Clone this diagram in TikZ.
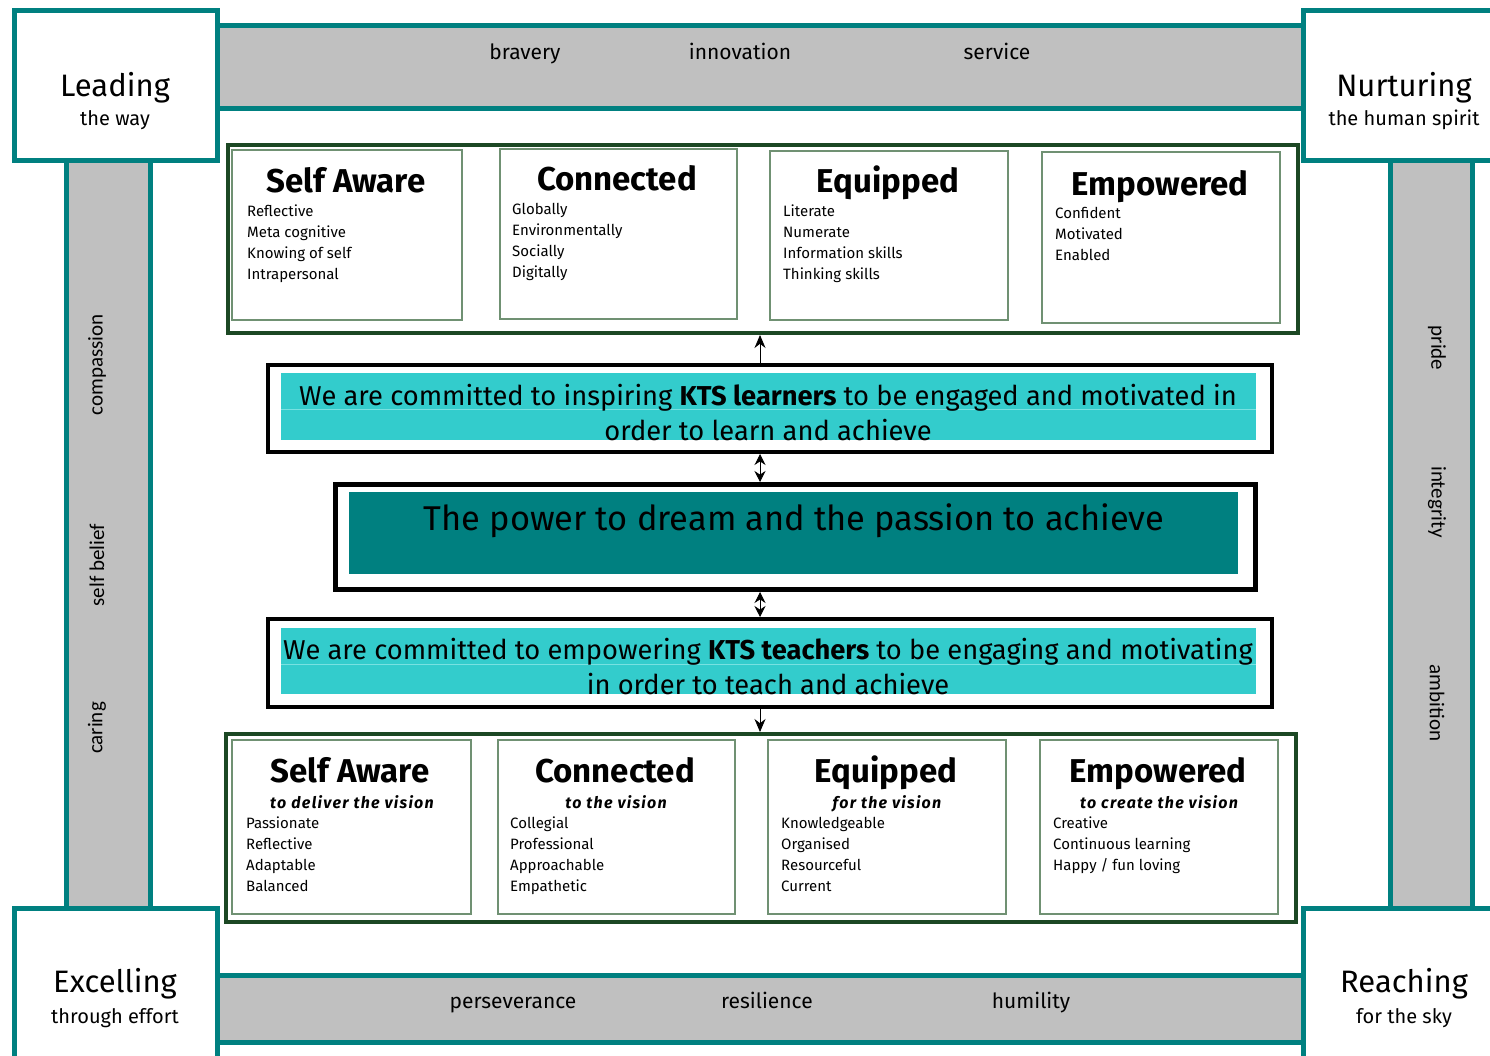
\documentclass[tikz,border=0pt]{standalone}
\usepackage{fontspec}
\setmainfont{Fira Sans}
\newfontfamily\sidefont{Carlito}
\newfontfamily\subfont[LetterSpace=8]{Fira Sans}
\usetikzlibrary{arrows.meta}

\definecolor{tealline}{RGB}{0,128,128}
\definecolor{bargray}{RGB}{192,192,192}
\definecolor{framegreen}{RGB}{28,72,36}
\definecolor{cardline}{RGB}{112,145,115}
\definecolor{aqua}{RGB}{51,204,204}
\definecolor{aqualine}{RGB}{120,225,225}
\definecolor{deepteal}{RGB}{0,128,128}

\tikzset{
  corner/.style={draw=tealline, line width=5pt, fill=white},
  barline/.style={draw=tealline, line width=5pt},
  frame/.style={draw=framegreen, line width=4pt, fill=white, inner sep=0pt, anchor=north west},
  card/.style={draw=cardline, line width=1.6pt, fill=white, inner sep=0pt, anchor=north west},
  stmtbox/.style={draw=black, line width=4pt, fill=white, inner sep=0pt, anchor=north west},
  cornertitle/.style={font=\fontsize{31}{36}\selectfont, anchor=base},
  cornersub/.style={font=\fontsize{20}{24}\selectfont, anchor=base},
  barword/.style={font=\fontsize{21}{24}\selectfont, anchor=base},
  sideword/.style={font=\sidefont\fontsize{21}{24}\selectfont, anchor=center},
  cardtitle/.style={font=\fontsize{33}{36}\selectfont\bfseries, anchor=base},
  cardsub/.style={font=\subfont\fontsize{16}{18}\selectfont\bfseries\itshape, anchor=base},
  item/.style={font=\fontsize{15}{18}\selectfont, anchor=base west, inner sep=0pt},
  stmt/.style={font=\fontsize{27.3}{30}\selectfont, anchor=base},
  motto/.style={font=\fontsize{34.4}{38}\selectfont, anchor=base},
  link/.style={draw=black, line width=0.8pt, -{Stealth[length=13pt,width=11pt]}},
  duallink/.style={draw=black, line width=0.8pt, {Stealth[length=11pt,width=11pt]}-{Stealth[length=11pt,width=11pt]}},
}

\begin{document}
\begin{tikzpicture}[x=1pt,y=-1pt]
\useasboundingbox (0,0) rectangle (1490,1055);
\clip (0,0) rectangle (1490,1055);

% grey bands between the corner boxes
\fill[bargray] (210,25) rectangle (1310,108);
\draw[barline] (210,25) -- (1310,25);
\draw[barline] (210,108) -- (1310,108);
\fill[bargray] (210,975) rectangle (1310,1042);
\draw[barline] (210,975) -- (1310,975);
\draw[barline] (210,1042) -- (1310,1042);
\fill[bargray] (66,150) rectangle (150,915);
\draw[barline] (66,150) -- (66,915);
\draw[barline] (150,150) -- (150,915);
\fill[bargray] (1390,150) rectangle (1472,915);
\draw[barline] (1390,150) -- (1390,915);
\draw[barline] (1472,150) -- (1472,915);

% corner boxes
\draw[corner] (14,10) rectangle (217,160);
\draw[corner] (1303,10) rectangle (1500,160);
\draw[corner] (14,908) rectangle (217,1070);
\draw[corner] (1303,908) rectangle (1500,1070);

\node[cornertitle] (lead) at (115,96) {Leading};
\node[cornersub] (leadsub) at (115,125) {the way};
\node[cornertitle] (nurt) at (1404,96) {Nurturing};
\node[cornersub] (nurtsub) at (1404,125) {the human spirit};
\node[cornertitle] (excel) at (115,992) {Excelling};
\node[cornersub] (excelsub) at (115,1023) {through effort};
\node[cornertitle] (reach) at (1404,992) {Reaching};
\node[cornersub] (reachsub) at (1404,1023) {for the sky};

% words on the bands
\node[barword] (w1) at (525,59) {bravery};
\node[barword] (w2) at (740,59) {innovation};
\node[barword] (w3) at (997,59) {service};
\node[barword] (w4) at (513,1008) {perseverance};
\node[barword] (w5) at (767,1008) {resilience};
\node[barword] (w6) at (1031,1008) {humility};
\node[sideword, rotate=90] (w7) at (97,365) {compassion};
\node[sideword, rotate=90] (w8) at (97,565) {self belief};
\node[sideword, rotate=90] (w9) at (97,728) {caring};
\node[sideword, rotate=-90] (w10) at (1437,348) {pride};
\node[sideword, rotate=-90] (w11) at (1437,502) {integrity};
\node[sideword, rotate=-90] (w12) at (1437,703) {ambition};

% learner qualities
\node[frame, minimum width=1070pt, minimum height=188pt] (topframe) at (226,143) {};
\node[card, minimum width=230pt, minimum height=170pt] (c1) at (231,149) {};
\node[card, minimum width=237pt, minimum height=170pt] (c2) at (499,148) {};
\node[card, minimum width=238pt, minimum height=169pt] (c3) at (769,150) {};
\node[card, minimum width=238pt, minimum height=171pt] (c4) at (1041,151) {};

\node[cardtitle] (t1) at (346,192) {Self Aware};
\node[cardtitle] (t2) at (617,190) {Connected};
\node[cardtitle] (t3) at (888,192) {Equipped};
\node[cardtitle] (t4) at (1160,195) {Empowered};

\foreach \txt [count=\i] in {Reflective, Meta cognitive, Knowing of self, Intrapersonal}
  \node[item] (a1-\i) at (247,216+21*\i-21) {\txt};
\foreach \txt [count=\i] in {Globally, Environmentally, Socially, Digitally}
  \node[item] (a2-\i) at (512,214+21*\i-21) {\txt};
\foreach \txt [count=\i] in {Literate, Numerate, Information skills, Thinking skills}
  \node[item] (a3-\i) at (783,216+21*\i-21) {\txt};
\foreach \txt [count=\i] in {Confident, Motivated, Enabled}
  \node[item] (a4-\i) at (1055,218+21*\i-21) {\txt};

% learner statement
\node[stmtbox, minimum width=1004pt, minimum height=87pt] (learn) at (266,363) {};
\fill[aqua] (281,373) rectangle (1256,440);
\draw[aqualine, line width=1pt] (281,409) -- (1256,409);
\node[stmt] (l1) at (768,405) {We are committed to inspiring \textbf{KTS learners} to be engaged and motivated in};
\node[stmt] (l2) at (768,440) {order to learn and achieve};

% motto
\node[stmtbox, line width=5pt, minimum width=920pt, minimum height=105pt] (motto) at (333,482) {};
\fill[deepteal] (349,492) rectangle (1238,574);
\node[motto] (m1) at (794,530) {The power to dream and the passion to achieve};

% teacher statement
\node[stmtbox, minimum width=1004pt, minimum height=88pt] (teach) at (266,617) {};
\fill[aqua] (281,628) rectangle (1256,694);
\draw[aqualine, line width=1pt] (281,664) -- (1256,664);
\node[stmt] (s1) at (768,659) {We are committed to empowering \textbf{KTS teachers} to be engaging and motivating};
\node[stmt] (s2) at (768,694) {in order to teach and achieve};

% teacher qualities
\node[frame, minimum width=1070pt, minimum height=188pt] (botframe) at (224,732) {};
\node[card, minimum width=239pt, minimum height=174pt] (d1) at (231,739) {};
\node[card, minimum width=237pt, minimum height=174pt] (d2) at (497,739) {};
\node[card, minimum width=238pt, minimum height=174pt] (d3) at (767,739) {};
\node[card, minimum width=238pt, minimum height=174pt] (d4) at (1039,739) {};

\node[cardtitle] (u1) at (350,782) {Self Aware};
\node[cardtitle] (u2) at (615,782) {Connected};
\node[cardtitle] (u3) at (886,782) {Equipped};
\node[cardtitle] (u4) at (1158,782) {Empowered};
\node[cardsub] (v1) at (352,808) {to deliver the vision};
\node[cardsub] (v2) at (616,808) {to the vision};
\node[cardsub] (v3) at (887,808) {for the vision};
\node[cardsub] (v4) at (1159,808) {to create the vision};

\foreach \txt [count=\i] in {Passionate, Reflective, Adaptable, Balanced}
  \node[item] (b1-\i) at (246,828+21*\i-21) {\txt};
\foreach \txt [count=\i] in {Collegial, Professional, Approachable, Empathetic}
  \node[item] (b2-\i) at (510,828+21*\i-21) {\txt};
\foreach \txt [count=\i] in {Knowledgeable, Organised, Resourceful, Current}
  \node[item] (b3-\i) at (781,828+21*\i-21) {\txt};
\foreach \txt [count=\i] in {Creative, Continuous learning, Happy / fun loving}
  \node[item] (b4-\i) at (1053,828+21*\i-21) {\txt};

% connectors along the central axis
\coordinate (axis) at (760,0);
\draw[link] (axis |- learn.north) -- (axis |- topframe.south);
\draw[duallink] (axis |- learn.south) -- (axis |- motto.north);
\draw[duallink] (axis |- motto.south) -- (axis |- teach.north);
\draw[link] (axis |- teach.south) -- (axis |- botframe.north);
\end{tikzpicture}
\end{document}
